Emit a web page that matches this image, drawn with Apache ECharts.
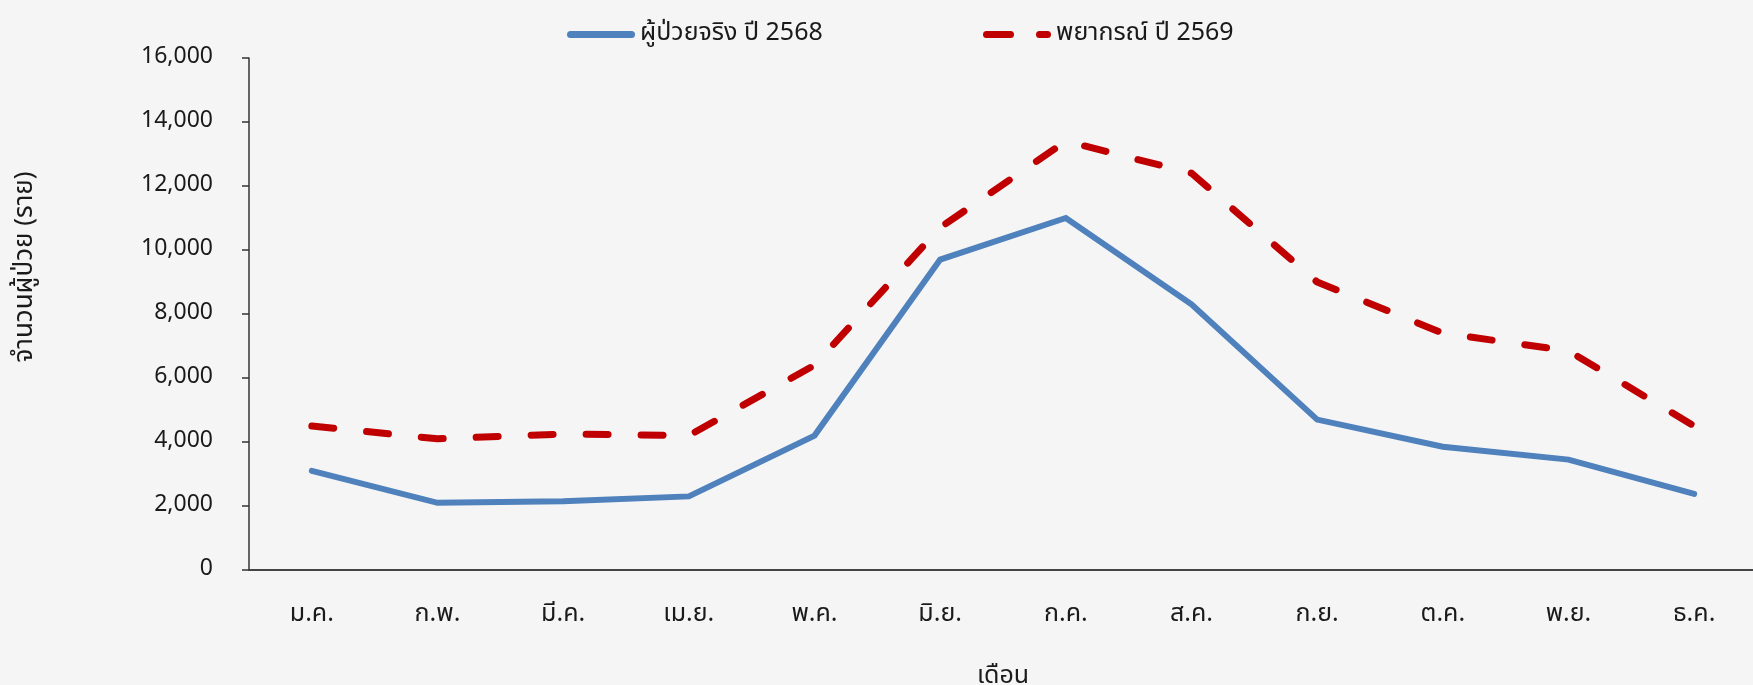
<!DOCTYPE html>
<html>
<head>
<meta charset="utf-8">
<script src="https://cdn.jsdelivr.net/npm/echarts@6/dist/echarts.min.js"></script>
<style>
  html, body { margin: 0; padding: 0; background: #f5f5f5; }
  #chart { width: 1753px; height: 685px; }
</style>
</head>
<body>
<div id="chart"></div>
<script>
// Monthly patient counts: actual 2568 vs forecast 2569
const months = ['ม.ค.', 'ก.พ.', 'มี.ค.', 'เม.ย.', 'พ.ค.', 'มิ.ย.', 'ก.ค.', 'ส.ค.', 'ก.ย.', 'ต.ค.', 'พ.ย.', 'ธ.ค.'];
const actual2568 = [3100, 2100, 2150, 2300, 4200, 9700, 11000, 8300, 4700, 3850, 3450, 2380];
const forecast2569 = [4500, 4100, 4250, 4200, 6400, 10700, 13400, 12400, 9000, 7400, 6850, 4500];
const seriesNames = ['ผู้ป่วยจริง ปี 2568', 'พยากรณ์ ปี 2569'];
const yAxisTitle = 'จำนวนผู้ป่วย (ราย)';
const xAxisTitle = 'เดือน';

const FONT = 'Tahoma, "Noto Sans Thai", "Noto Sans", sans-serif';
const TEXT = '#1a1a1a';
const BLUE = '#4f81bd';
const RED = '#c00000';

// legend swatches: a solid bar, and a dash-gap-dash bar
const SOLID_ICON = 'path://M3.5,0 L64.5,0 A3.5,3.5 0 0 1 64.5,7 L3.5,7 A3.5,3.5 0 0 1 3.5,0 Z';
const DASH_ICON = 'path://M3.5,0 L27.5,0 A3.5,3.5 0 0 1 27.5,7 L3.5,7 A3.5,3.5 0 0 1 3.5,0 Z ' +
                  'M56.5,0 L64.5,0 A3.5,3.5 0 0 1 64.5,7 L56.5,7 A3.5,3.5 0 0 1 56.5,0 Z';

// one legend block per series so each entry sits at its own spot
function legendBlock(name, icon, left) {
  return {
    left: left,
    top: 17,
    itemWidth: 68,
    itemHeight: 7,
    icon: icon,
    data: [name],
    textStyle: { fontFamily: FONT, fontSize: 25, color: TEXT }
  };
}

const chart = echarts.init(document.getElementById('chart'), null, { renderer: 'canvas' });
chart.setOption({
  backgroundColor: '#f5f5f5',
  animation: false,
  textStyle: { fontFamily: FONT, color: TEXT },
  legend: [
    legendBlock(seriesNames[0], SOLID_ICON, 562),
    legendBlock(seriesNames[1], DASH_ICON, 978)
  ],
  grid: { left: 249, top: 58, width: 1508, bottom: 115, containLabel: false, outerBoundsMode: 'none' },
  xAxis: {
    type: 'category',
    data: months,
    boundaryGap: true,
    name: xAxisTitle,
    nameLocation: 'middle',
    nameGap: 95,
    nameTextStyle: { fontFamily: FONT, fontSize: 25, color: TEXT },
    axisLine: { lineStyle: { color: '#444', width: 2 } },
    axisTick: { alignWithLabel: true, length: 9, lineStyle: { color: '#333', width: 1.5 } },
    axisLabel: { fontFamily: FONT, fontSize: 25, color: TEXT, margin: 33 }
  },
  yAxis: {
    type: 'value',
    min: 0,
    max: 16000,
    interval: 2000,
    name: yAxisTitle,
    nameLocation: 'middle',
    nameGap: 209,
    nameTextStyle: { fontFamily: FONT, fontSize: 26, color: TEXT, padding: [0, 0, 0, 94] },
    axisLine: { show: true, lineStyle: { color: '#333', width: 1.5 } },
    axisTick: { show: true, length: 7, lineStyle: { color: '#333', width: 1.5 } },
    splitLine: { show: false },
    axisLabel: {
      fontFamily: FONT, fontSize: 23, color: TEXT, margin: 36,
      formatter: v => v.toLocaleString('en-US')
    }
  },
  series: [
    {
      name: seriesNames[0],
      type: 'line',
      data: actual2568,
      symbol: 'none',
      itemStyle: { color: BLUE },
      lineStyle: { color: BLUE, width: 6, cap: 'round', join: 'miter' }
    },
    {
      name: seriesNames[1],
      type: 'line',
      data: forecast2569,
      symbol: 'none',
      itemStyle: { color: RED },
      lineStyle: { color: RED, width: 7, type: [22, 33], cap: 'round', join: 'round' }
    }
  ]
});
</script>
</body>
</html>
